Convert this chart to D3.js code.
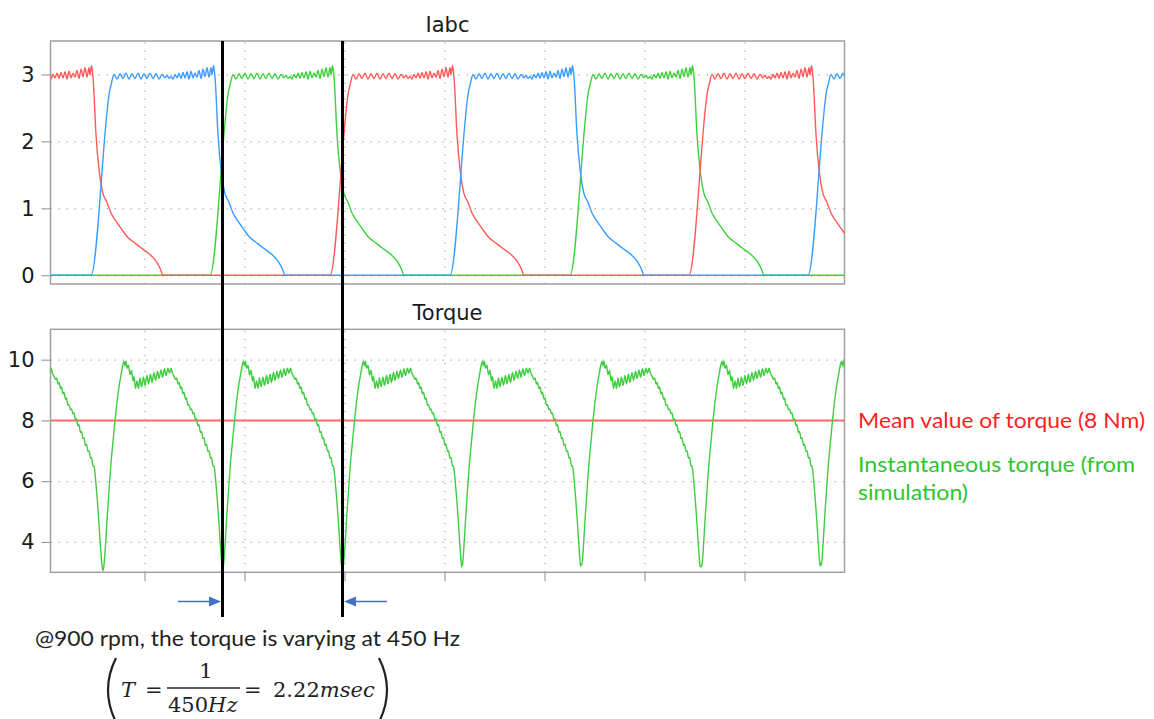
<!DOCTYPE html>
<html>
<head>
<meta charset="utf-8">
<script src="https://cdn.jsdelivr.net/npm/d3@7"></script>
<style>
  body { margin: 0; background: #fff; }
  svg { display: block; }
</style>
</head>
<body>
<svg></svg>
<script>
const width = 1154;
const height = 719;

// time axis in µs (no labels shown, grid every 2000 µs)
const timeDomain = [-1880, 14000];
const timeTicks = [0, 2000, 4000, 6000, 8000, 10000, 12000];

const currentDomain = [-0.13, 3.5];
const currentTicks = [0, 1, 2, 3];
const torqueDomain = [3, 11];
const torqueTicks = [4, 6, 8, 10];

// one conduction pulse of a phase current: [µs after turn-on, A]
const pulseShape = [
  [0, 0], [380, 2.78], [400, 2.84], [460, 3.0], [520, 2.93], [580, 3.01], [640, 2.94],
  [700, 3.02], [760, 2.93], [820, 3.01], [880, 2.94], [940, 3.02], [1000, 2.93],
  [1060, 3.01], [1120, 2.94], [1180, 3.02], [1240, 2.94], [1300, 3.01], [1360, 2.93],
  [1420, 3.0], [1480, 2.95], [1520, 2.99], [1560, 2.94], [1600, 2.97], [1640, 2.93],
  [1680, 3.0], [1720, 2.95], [1760, 3.02], [1800, 2.94], [1840, 3.03], [1880, 2.95],
  [1920, 3.04], [1960, 2.93], [2000, 3.05], [2040, 2.95], [2080, 3.02], [2120, 2.96],
  [2160, 3.06], [2200, 2.94], [2240, 3.08], [2280, 2.97], [2320, 3.1], [2360, 2.96],
  [2400, 3.1], [2420, 3.0], [2450, 3.13], [2460, 3.1], [2486, 2.9], [2540, 2.1],
  [2610, 1.52], [2680, 1.22], [2755, 1.1], [2840, 0.93], [2920, 0.83], [3060, 0.68],
  [3160, 0.58], [3340, 0.47], [3460, 0.4], [3620, 0.31], [3760, 0.19], [3830, 0.09],
  [3880, 0]
];

// turn-on instants of each phase (µs)
const redOnsets = [-3510, 3710, 10890];
const blueOnsets = [-1070, 6110, 13270];
const greenOnsets = [1310, 8510];

// one torque cycle starting at its minimum: [µs after minimum, Nm]
const torqueCycle = [
  [0, 3.1], [20, 3.25], [45, 3.75], [80, 4.7], [120, 5.7], [160, 6.6], [200, 7.3],
  [240, 8.0], [280, 8.6], [320, 9.1], [360, 9.5], [400, 9.85], [420, 9.95], [440, 9.8],
  [460, 9.95], [480, 9.72], [510, 9.82], [540, 9.5], [570, 9.65], [600, 9.3],
  [620, 9.45], [650, 9.05], [680, 9.3], [710, 9.05], [740, 9.4], [770, 9.1],
  [810, 9.42], [840, 9.15], [880, 9.48], [910, 9.2], [950, 9.52], [980, 9.25],
  [1020, 9.58], [1050, 9.32], [1090, 9.62], [1120, 9.38], [1160, 9.66], [1190, 9.42],
  [1230, 9.7], [1260, 9.48], [1300, 9.72], [1330, 9.55], [1360, 9.72], [1390, 9.55],
  [1420, 9.45], [1450, 9.35], [1470, 9.4], [1500, 9.2], [1520, 9.25], [1550, 9.05],
  [1570, 9.1], [1600, 8.88], [1620, 8.93], [1650, 8.7], [1670, 8.74], [1700, 8.5],
  [1720, 8.52], [1750, 8.35], [1770, 8.38], [1800, 8.22], [1820, 8.25], [1850, 8.02],
  [1870, 8.06], [1900, 7.82], [1920, 7.86], [1950, 7.6], [1970, 7.64], [2000, 7.4],
  [2020, 7.43], [2050, 7.18], [2070, 7.22], [2100, 6.98], [2120, 7.0], [2150, 6.76],
  [2170, 6.78], [2200, 6.5], [2220, 6.5], [2240, 6.25], [2260, 5.9], [2290, 5.3],
  [2320, 4.6], [2345, 3.95], [2365, 3.5], [2382, 3.2]
];
const torqueMinTimes = [-3230, -830, 1560, 3960, 6340, 8730, 11130, 13520];
const torqueMinValues = [3.1, 3.05, 3.2, 3.1, 3.18, 3.27, 3.18, 3.3];

const meanTorque = 8;
const periodMarks = [1560, 3960];

const plotLeft = 50.5, plotRight = 844.5;
const topBox = { top: 41, bottom: 284 };
const botBox = { top: 329.3, bottom: 572.3 };

const labelFont = '"DejaVu Sans", Verdana, sans-serif';
const noteFont = 'Lato, "Open Sans", sans-serif';

const svg = d3.select("svg")
  .attr("width", width)
  .attr("height", height);

const x = d3.scaleLinear().domain(timeDomain).range([plotLeft, plotRight]);
const yI = d3.scaleLinear().domain(currentDomain).range([topBox.bottom, topBox.top]);
const yT = d3.scaleLinear().domain(torqueDomain).range([botBox.bottom, botBox.top]);

function phaseSeries(onsets) {
  const pts = [];
  if (onsets[0] > timeDomain[0]) pts.push([timeDomain[0], 0]);
  onsets.forEach(t0 => pulseShape.forEach(([dt, v]) => pts.push([t0 + dt, v])));
  if (pts[pts.length - 1][0] < timeDomain[1]) pts.push([timeDomain[1], 0]);
  return pts;
}

const torqueSeries = [];
torqueMinTimes.forEach((t0, i) => {
  torqueCycle.forEach(([dt, v], j) => {
    torqueSeries.push([t0 + dt, j === 0 ? torqueMinValues[i] : v]);
  });
});

svg.append("defs").selectAll("clipPath")
  .data([["clipTop", topBox], ["clipBot", botBox]])
  .enter()
  .append("clipPath")
  .attr("id", d => d[0])
  .append("rect")
  .attr("x", plotLeft)
  .attr("y", d => d[1].top)
  .attr("width", plotRight - plotLeft)
  .attr("height", d => d[1].bottom - d[1].top);

function drawPanel(box, y, ticks, title, withXTicks) {
  const g = svg.append("g");

  // dotted grid
  g.append("g")
    .attr("class", "grid")
    .attr("transform", `translate(0,${box.bottom})`)
    .call(d3.axisBottom(x).tickValues(timeTicks)
      .tickSize(-(box.bottom - box.top)).tickFormat(""));
  g.append("g")
    .attr("class", "grid")
    .attr("transform", `translate(${plotLeft},0)`)
    .call(d3.axisLeft(y).tickValues(ticks)
      .tickSize(-(plotRight - plotLeft)).tickFormat(""));
  g.selectAll(".grid line")
    .attr("stroke", "#b4b4b4")
    .attr("stroke-width", 1.2)
    .attr("stroke-dasharray", "1.5,6.5");
  g.selectAll(".grid path").remove();

  // y axis ticks and labels
  const ya = g.append("g")
    .attr("transform", `translate(${plotLeft},0)`)
    .call(d3.axisLeft(y).tickValues(ticks).tickSize(9).tickPadding(7)
      .tickFormat(d3.format("d")));
  ya.select(".domain").remove();
  ya.selectAll("line").attr("stroke", "#8c8c8c");
  ya.selectAll("text")
    .attr("fill", "#1a1a1a")
    .style("font-family", labelFont)
    .style("font-size", "21px");

  if (withXTicks) {
    const xa = g.append("g")
      .attr("transform", `translate(0,${box.bottom})`)
      .call(d3.axisBottom(x).tickValues(timeTicks).tickSize(9).tickFormat(""));
    xa.select(".domain").remove();
    xa.selectAll("line").attr("stroke", "#8c8c8c");
  }

  g.append("rect")
    .attr("x", plotLeft)
    .attr("y", box.top)
    .attr("width", plotRight - plotLeft)
    .attr("height", box.bottom - box.top)
    .attr("fill", "none")
    .attr("stroke", "#a0a0a0")
    .attr("stroke-width", 1.5);

  svg.append("text")
    .attr("x", (plotLeft + plotRight) / 2)
    .attr("y", box.top - 9)
    .attr("text-anchor", "middle")
    .attr("fill", "#1a1a1a")
    .style("font-family", labelFont)
    .style("font-size", "21px")
    .text(title);
}

drawPanel(topBox, yI, currentTicks, "Iabc", false);
drawPanel(botBox, yT, torqueTicks, "Torque", true);

// phase currents
const lineI = d3.line().x(d => x(d[0])).y(d => yI(d[1])).curve(d3.curveMonotoneX);
const phases = [
  { pts: phaseSeries(greenOnsets), color: "#3fcf3f" },
  { pts: phaseSeries(redOnsets), color: "#ff5a5a" },
  { pts: phaseSeries(blueOnsets), color: "#3b9cff" }
];
svg.append("g")
  .attr("clip-path", "url(#clipTop)")
  .selectAll("path")
  .data(phases)
  .enter()
  .append("path")
  .attr("d", d => lineI(d.pts))
  .attr("fill", "none")
  .attr("stroke", d => d.color)
  .attr("stroke-width", 1.4)
  .attr("stroke-linejoin", "round");

// torque
const lineT = d3.line().x(d => x(d[0])).y(d => yT(d[1])).curve(d3.curveMonotoneX);
const torqueG = svg.append("g").attr("clip-path", "url(#clipBot)");
torqueG.append("line")
  .attr("x1", x(timeDomain[0]))
  .attr("x2", x(timeDomain[1]))
  .attr("y1", yT(meanTorque))
  .attr("y2", yT(meanTorque))
  .attr("stroke", "#ff6b6b")
  .attr("stroke-width", 2);
torqueG.append("path")
  .attr("d", lineT(torqueSeries))
  .attr("fill", "none")
  .attr("stroke", "#3fcc3f")
  .attr("stroke-width", 1.4)
  .attr("stroke-linejoin", "round");

// period markers
svg.selectAll("line.mark")
  .data(periodMarks)
  .enter()
  .append("line")
  .attr("class", "mark")
  .attr("x1", d => x(d))
  .attr("x2", d => x(d))
  .attr("y1", topBox.top)
  .attr("y2", 617)
  .attr("stroke", "#000")
  .attr("stroke-width", 3);

const arrowY = 601.5;
const arrowBlue = "#4472c4";
[[periodMarks[0], -1], [periodMarks[1], 1]].forEach(([t, side]) => {
  const tip = x(t) + side * 1.5;
  svg.append("line")
    .attr("x1", tip + side * 43)
    .attr("x2", tip + side * 10)
    .attr("y1", arrowY)
    .attr("y2", arrowY)
    .attr("stroke", arrowBlue)
    .attr("stroke-width", 1.5);
  svg.append("path")
    .attr("d", `M${tip},${arrowY} L${tip + side * 12},${arrowY - 5} L${tip + side * 12},${arrowY + 5} Z`)
    .attr("fill", arrowBlue);
});

// legend notes
const notes = [
  { text: "Mean value of torque (8 Nm)", y: 428, len: 287, color: "#ff1f1f" },
  { text: "Instantaneous torque (from", y: 471.5, len: 277, color: "#2ec52e" },
  { text: "simulation)", y: 500, len: 110, color: "#2ec52e" }
];
svg.selectAll("text.note")
  .data(notes)
  .enter()
  .append("text")
  .attr("class", "note")
  .attr("x", 858)
  .attr("y", d => d.y)
  .attr("fill", d => d.color)
  .attr("textLength", d => d.len)
  .attr("lengthAdjust", "spacingAndGlyphs")
  .style("font-family", noteFont)
  .style("font-size", "21px")
  .text(d => d.text);

svg.append("text")
  .attr("x", 35)
  .attr("y", 646)
  .attr("fill", "#222")
  .attr("textLength", 425)
  .attr("lengthAdjust", "spacingAndGlyphs")
  .style("font-family", noteFont)
  .style("font-size", "21px")
  .text("@900 rpm, the torque is varying at 450 Hz");

// formula (T = 1/450Hz = 2.22msec)
const mathFont = '"DejaVu Serif", "Liberation Serif", serif';
const formula = svg.append("g")
  .attr("fill", "#222")
  .style("font-family", mathFont)
  .style("font-size", "21px");

formula.append("path")
  .attr("d", "M116,658 Q100,690 116,722")
  .attr("fill", "none").attr("stroke", "#222").attr("stroke-width", 2.2);
formula.append("path")
  .attr("d", "M379,658 Q395,690 379,722")
  .attr("fill", "none").attr("stroke", "#222").attr("stroke-width", 2.2);

formula.append("text").attr("x", 121).attr("y", 697)
  .style("font-style", "italic").text("T");
formula.append("text").attr("x", 145).attr("y", 697).text("=");
formula.append("text").attr("x", 206).attr("y", 678)
  .attr("text-anchor", "middle").text("1");
formula.append("line")
  .attr("x1", 167).attr("x2", 240).attr("y1", 688).attr("y2", 688)
  .attr("stroke", "#222").attr("stroke-width", 1.4);
const den = formula.append("text").attr("x", 168).attr("y", 712);
den.append("tspan").text("450");
den.append("tspan").style("font-style", "italic").text("Hz");
formula.append("text").attr("x", 244).attr("y", 697).text("=");
const res = formula.append("text").attr("x", 273).attr("y", 697);
res.append("tspan").text("2.22");
res.append("tspan").style("font-style", "italic").text("msec");
</script>
</body>
</html>
